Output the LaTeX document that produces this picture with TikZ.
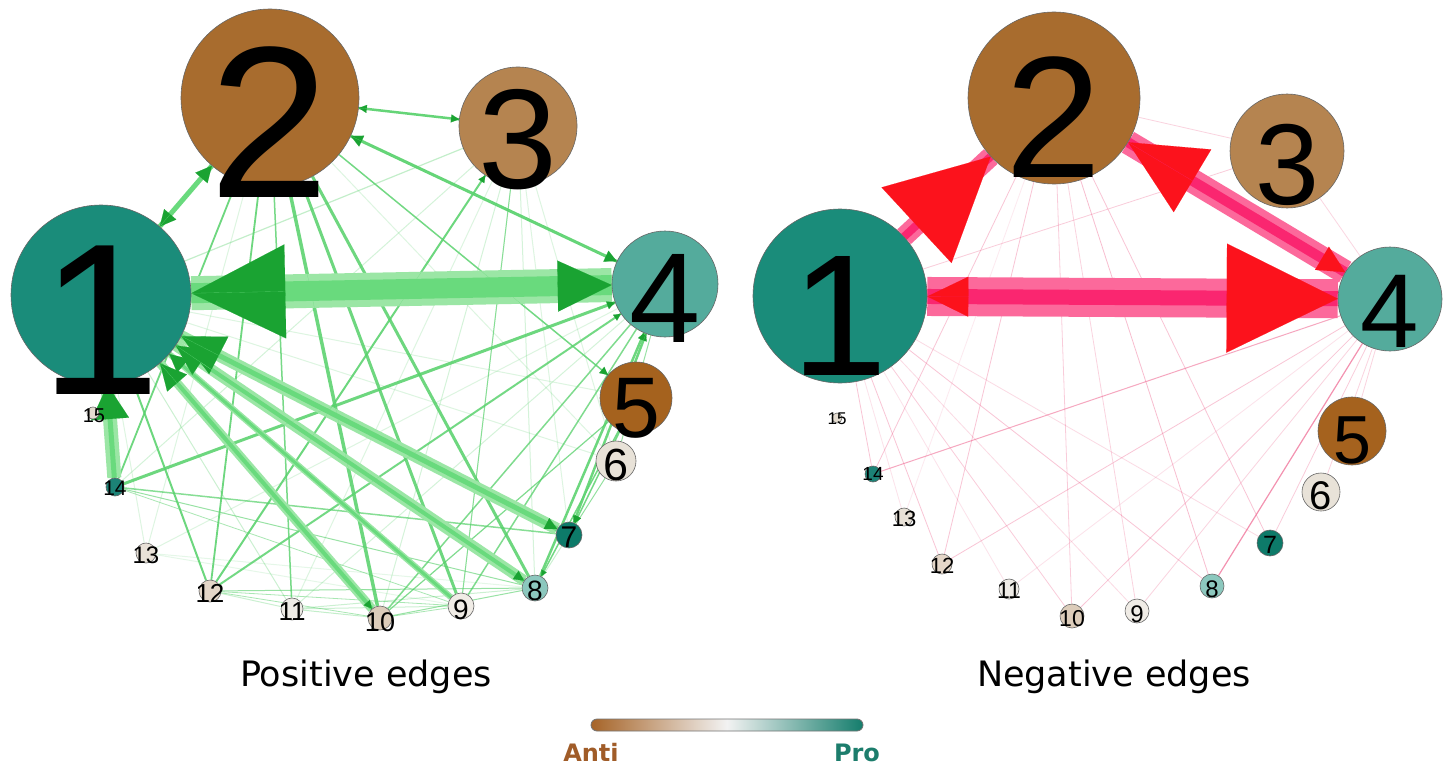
\documentclass[tikz,border=0pt]{standalone}
\usepackage{fontspec}
\setmainfont{Liberation Sans}
\newfontfamily\dejavu{DejaVu Sans}
\usetikzlibrary{arrows.meta}
\pgfdeclarelayer{bg}
\pgfdeclarelayer{back}
\pgfsetlayers{back,bg,main}
\definecolor{nA}{RGB}{26,140,122}
\definecolor{nB}{RGB}{168,108,46}
\definecolor{nC}{RGB}{181,132,80}
\definecolor{nD}{RGB}{84,171,156}
\definecolor{nE}{RGB}{165,98,30}
\definecolor{nF}{RGB}{232,226,216}
\definecolor{nG}{RGB}{13,122,105}
\definecolor{nH}{RGB}{140,200,190}
\definecolor{nI}{RGB}{240,236,230}
\definecolor{nJ}{RGB}{220,204,186}
\definecolor{nK}{RGB}{238,235,230}
\definecolor{nL}{RGB}{228,214,200}
\definecolor{nM}{RGB}{232,225,215}
\definecolor{nN}{RGB}{28,130,118}
\definecolor{nO}{RGB}{228,220,208}
\definecolor{gline}{RGB}{85,208,105}
\definecolor{gbo}{RGB}{155,230,165}
\definecolor{gbi}{RGB}{105,218,125}
\definecolor{gtip}{RGB}{26,163,50}
\definecolor{pline}{RGB}{240,110,150}
\definecolor{pbo}{RGB}{252,105,155}
\definecolor{pbi}{RGB}{250,38,112}
\definecolor{ptip}{RGB}{252,18,28}
\definecolor{antic}{RGB}{160,92,40}
\definecolor{proc}{RGB}{28,125,108}
\definecolor{barl}{RGB}{166,100,40}
\definecolor{barr}{RGB}{20,125,108}
\definecolor{barm}{RGB}{242,242,242}
\tikzset{
  nd/.style={circle, draw=black!60, line width=0.6pt, inner sep=0pt, minimum size=#1},
  lb/.style={anchor=base, inner sep=0pt, text=black, font=\fontsize{#1}{#1}\selectfont},
  tipg/.style={draw=gbi, line width=0.1pt, -{Triangle[length=#1,width=#1,color=gtip]}},
  tipp/.style={draw=pbi, line width=0.1pt, -{Triangle[length=#1,width=#1,color=ptip]}},
  title/.style={anchor=base, inner sep=0pt, font=\dejavu\fontsize{35}{35}\selectfont},
  legtext/.style={anchor=base, inner sep=0pt, font=\dejavu\bfseries\fontsize{24}{24}\selectfont}
}
\begin{document}
\begin{tikzpicture}[x=1pt,y=-1pt]
\useasboundingbox (0,0) rectangle (1445,765);
\begin{pgfonlayer}{back}
\fill[white] (0,0) rectangle (1445,765);
\end{pgfonlayer}

% ---------- left panel nodes ----------
\node[nd=180pt, fill=nA] (L1) at (101,295) {};
\node[nd=178pt, fill=nB] (L2) at (270,98) {};
\node[nd=118pt, fill=nC] (L3) at (518,126) {};
\node[nd=106pt, fill=nD] (L4) at (665,284) {};
\node[nd=72pt, fill=nE] (L5) at (636,398) {};
\node[nd=40pt, fill=nF] (L6) at (616,461) {};
\node[nd=26pt, fill=nG] (L7) at (569,535) {};
\node[nd=26pt, fill=nH] (L8) at (535,588) {};
\node[nd=26pt, fill=nI] (L9) at (461,606) {};
\node[nd=24pt, fill=nJ] (L10) at (380,618) {};
\node[nd=22pt, fill=nK] (L11) at (292,609) {};
\node[nd=22pt, fill=nL] (L12) at (210,591) {};
\node[nd=20pt, fill=nM] (L13) at (146,553) {};
\node[nd=18pt, fill=nN] (L14) at (115,487) {};
\node[nd=12pt, fill=nO] (L15) at (93,413) {};

% ---------- right panel nodes ----------
\node[nd=174pt, fill=nA] (R1) at (840,296) {};
\node[nd=172pt, fill=nB] (R2) at (1054,98) {};
\node[nd=114pt, fill=nC] (R3) at (1287,151) {};
\node[nd=104pt, fill=nD] (R4) at (1390,299) {};
\node[nd=68pt, fill=nE] (R5) at (1352,431) {};
\node[nd=38pt, fill=nF] (R6) at (1321,492) {};
\node[nd=26pt, fill=nG] (R7) at (1270,543) {};
\node[nd=24pt, fill=nH] (R8) at (1212,586) {};
\node[nd=24pt, fill=nI] (R9) at (1137,611) {};
\node[nd=24pt, fill=nJ] (R10) at (1072,616) {};
\node[nd=20pt, fill=nK] (R11) at (1009,589) {};
\node[nd=20pt, fill=nL] (R12) at (942,564) {};
\node[nd=18pt, fill=nM] (R13) at (904,517) {};
\node[nd=16pt, fill=nN] (R14) at (873,474) {};
\node[nd=10pt, fill=nO] (R15) at (837,418) {};

% ---------- edges ----------
\begin{pgfonlayer}{bg}
% left: faint lines
\foreach \a/\b/\w/\o in {L3/L9/1/0.25, L3/L8/1/0.25, L3/L7/1/0.2, L3/L10/1/0.25, L3/L11/1/0.2,
  L4/L13/1/0.2, L2/L13/1/0.2, L1/L3/1.2/0.35, L1/L5/1/0.2, L1/L6/1/0.2, L1/L11/1/0.3,
  L1/L13/1/0.2, L13/L8/1/0.15, L13/L9/1/0.15, L11/L8/1/0.3, L11/L9/1/0.3, L11/L10/1/0.35,
  L12/L11/1/0.3, L3/L6/1/0.2, L2/L6/1/0.2, L4/L11/1/0.25, L3/L14/1/0.25, L6/L8/1/0.3}
  \draw[draw=gline, line width=\w pt, draw opacity=\o] (\a) -- (\b);
% left: visible lines
\foreach \a/\b/\w/\o in {L2/L14/1.8/0.85, L2/L12/1.8/0.85, L2/L11/1.5/0.8, L2/L10/3.5/0.85,
  L2/L9/3/0.85, L2/L8/3/0.85, L2/L5/1.5/0.8, L2/L4/3/0.9, L2/L3/2.5/0.9, L3/L12/2/0.85,
  L4/L14/3/0.85, L4/L12/2/0.8, L4/L10/1.5/0.75, L4/L9/1.5/0.75, L4/L8/2.5/0.85, L4/L7/2.5/0.85,
  L4/L6/1/0.6, L5/L7/1.5/0.8, L5/L8/1.5/0.8, L12/L1/2/0.85, L14/L7/1.5/0.7, L14/L8/1/0.6,
  L14/L9/0.8/0.5, L12/L8/1/0.6, L12/L9/0.8/0.5, L12/L10/0.8/0.5, L10/L8/1/0.6, L10/L9/0.8/0.5,
  L10/L5/1.2/0.75, L9/L3/1/0.6, L7/L6/0.8/0.5, L1/L14/1/0.6}
  \draw[draw=gline, line width=\w pt, draw opacity=\o] (\a) -- (\b);
\draw[draw=gbi, line width=5pt] (L1) -- (L2);
% left: bands
\draw[draw=gbo, line width=34pt] (L1) -- (L4);
\draw[draw=gbi, line width=20pt] (L1) -- (L4);
\draw[draw=gbo, line width=12pt] (L1) -- (L7);
\draw[draw=gbi, line width=5pt] (L1) -- (L7);
\draw[draw=gbo, line width=11pt] (L1) -- (L8);
\draw[draw=gbi, line width=4pt] (L1) -- (L8);
\draw[draw=gbo, line width=9pt] (L1) -- (L10);
\draw[draw=gbi, line width=4pt] (L1) -- (L10);
\draw[draw=gbo, line width=6pt] (L1) -- (L9);
\draw[draw=gbi, line width=3pt] (L1) -- (L9);
\draw[draw=gbo, line width=14pt] (L14) -- (L1);
\draw[draw=gbi, line width=5pt] (L14) -- (L1);
% left: arrow tips
\draw[tipg=94pt] (L4) -- (L1);
\draw[draw=gbi, line width=0.1pt, -{Triangle[length=54pt,width=51pt,color=gtip]}] (L1) -- (L4);
\draw[tipg=42pt] (L7) -- (L1);
\draw[tipg=30pt] (L8) -- (L1);
\draw[tipg=26pt] (L10) -- (L1);
\draw[tipg=18pt] (L9) -- (L1);
\draw[draw=gbi, line width=0.1pt, -{Triangle[length=34pt,width=38pt,color=gtip]}] (L14) -- (L1);
\draw[tipg=12pt] (L1) -- (L7);
\draw[tipg=10pt] (L1) -- (L8);
\draw[tipg=8pt] (L1) -- (L10);
\draw[tipg=16pt] (L2) -- (L1);
\draw[tipg=16pt] (L1) -- (L2);
\draw[tipg=8pt] (L3) -- (L2);
\draw[tipg=8pt] (L2) -- (L3);
\draw[tipg=12pt] (L4) -- (L2);
\draw[tipg=12pt] (L2) -- (L4);
\draw[tipg=8pt] (L14) -- (L4);
\draw[tipg=7pt] (L12) -- (L4);
\draw[tipg=7pt] (L7) -- (L4);
\draw[tipg=7pt] (L8) -- (L4);
\draw[tipg=7pt] (L12) -- (L3);
\draw[tipg=10pt] (L10) -- (L2);
\draw[tipg=8pt] (L2) -- (L5);
\draw[tipg=7pt] (L5) -- (L7);
\draw[tipg=7pt] (L4) -- (L7);
\draw[tipg=6pt] (L5) -- (L8);
\draw[tipg=6pt] (L12) -- (L1);

% right: thin lines
\foreach \a/\b/\w/\o in {R1/R3/0.8/0.35, R2/R3/0.8/0.3, R3/R4/0.8/0.28,
  R14/R1/0.8/0.4, R14/R2/0.8/0.4, R14/R4/1/0.6, R12/R1/0.8/0.4, R12/R2/0.8/0.4, R12/R4/0.8/0.4,
  R10/R1/0.8/0.35, R10/R2/0.8/0.35, R10/R4/0.8/0.4, R9/R1/0.8/0.25, R9/R2/0.8/0.3, R9/R4/0.8/0.3,
  R8/R1/0.8/0.4, R8/R2/0.8/0.45, R8/R4/1.2/0.75, R7/R1/0.8/0.25, R7/R2/0.8/0.4, R7/R4/0.8/0.35,
  R6/R4/0.8/0.3, R5/R4/0.8/0.3, R11/R1/0.8/0.2, R13/R1/0.8/0.2, R11/R4/0.8/0.2, R13/R2/0.8/0.15}
  \draw[draw=pline, line width=\w pt, draw opacity=\o] (\a) -- (\b);
% right: bands
\draw[draw=pbo, line width=39pt] (R1) -- (R4);
\draw[draw=pbi, line width=15pt] (R1) -- (R4);
\draw[draw=pbo, line width=20pt] (R1) -- (R2);
\draw[draw=pbi, line width=8pt] (R1) -- (R2);
\draw[draw=pbo, line width=24pt] (R2) -- (R4);
\draw[draw=pbi, line width=10pt] (R2) -- (R4);
% right: arrow tips
\draw[draw=pbi, line width=0.1pt, -{Triangle[length=41pt,width=40pt,color=ptip]}] (R4) -- (R1);
\draw[draw=pbi, line width=0.1pt, -{Triangle[length=111pt,width=109pt,color=ptip]}] (R1) -- (R4);
\draw[draw=pbi, line width=0.1pt, -{Triangle[length=101pt,width=103pt,color=ptip]}] (R1) -- (R2);
\draw[draw=pbi, line width=0.1pt, -{Triangle[length=75pt,width=73pt,color=ptip]}] (R4) -- (R2);
\draw[tipp=27pt] (R2) -- (R4);
\end{pgfonlayer}

% ---------- labels ----------
\node[lb=216] (L1t) at (101,394) {1};
\node[lb=216] (L2t) at (270,197) {2};
\node[lb=142] (L3t) at (518,188) {3};
\node[lb=128] (L4t) at (665,342) {4};
\node[lb=86] (L5t) at (636,437) {5};
\node[lb=45] (L6t) at (616,480) {6};
\node[lb=30] (L7t) at (569,547) {7};
\node[lb=28] (L8t) at (535,600) {8};
\node[lb=28] (L9t) at (461,619) {9};
\node[lb=27] (L10t) at (380,631) {10};
\node[lb=26] (L11t) at (292,620) {11};
\node[lb=26] (L12t) at (210,602) {12};
\node[lb=24] (L13t) at (146,563) {13};
\node[lb=21] (L14t) at (115,495) {14};
\node[lb=20] (L15t) at (94,422) {15};

\node[lb=173] (R1t) at (840,375) {1};
\node[lb=173] (R2t) at (1054,177) {2};
\node[lb=115] (R3t) at (1287,204) {3};
\node[lb=105] (R4t) at (1390,347) {4};
\node[lb=68] (R5t) at (1352,463) {5};
\node[lb=40] (R6t) at (1321,509) {6};
\node[lb=25] (R7t) at (1270,553) {7};
\node[lb=24] (R8t) at (1212,597) {8};
\node[lb=24] (R9t) at (1137,622) {9};
\node[lb=23] (R10t) at (1072,626) {10};
\node[lb=23] (R11t) at (1009,598) {11};
\node[lb=22] (R12t) at (942,573) {12};
\node[lb=22] (R13t) at (904,526) {13};
\node[lb=19] (R14t) at (873,480) {14};
\node[lb=17] (R15t) at (837,424) {15};

% ---------- titles ----------
\node[title] (tpos) at (366,686) {Positive edges};
\node[title] (tneg) at (1114,686) {Negative edges};

% ---------- colour bar ----------
\shade[rounded corners=6pt, left color=barl, right color=barr, middle color=barm] (591,719) rectangle (863,731);
\draw[black!55, line width=0.8pt, rounded corners=6pt] (591,719) rectangle (863,731);
\node[legtext, text=antic] (anti) at (591,761) {Anti};
\node[legtext, text=proc] (pro) at (857,761) {Pro};
\end{tikzpicture}
\end{document}
